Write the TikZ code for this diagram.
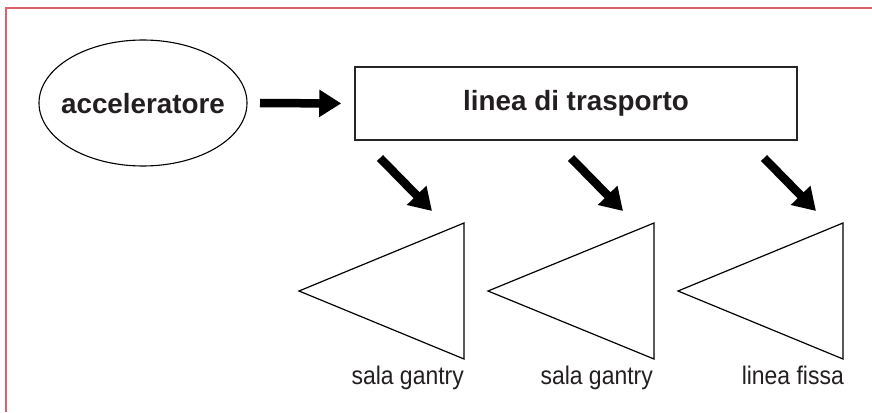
\documentclass[tikz,border=0pt]{standalone}
\usepackage{fontspec}
\setmainfont{Liberation Sans}
\newfontfamily\labfont[FakeStretch=0.9]{Liberation Sans}
\usetikzlibrary{arrows.meta,shapes.geometric}
\definecolor{frame}{RGB}{222,96,106}
\definecolor{ink}{RGB}{35,31,32}
\begin{document}
\begin{tikzpicture}[x=1pt,y=-1pt,
  bold/.style={font=\bfseries\fontsize{27.8}{30}\selectfont, text=ink},
  lab/.style={font=\labfont\fontsize{25.5}{28}\selectfont, text=ink, inner sep=0pt},
  bigarrow/.style={line width=8.5pt, -{Triangle[length=22pt,width=26pt]}},
  tri/.style={draw=black, line width=1.2pt, line join=miter}]
\useasboundingbox (0,0) rectangle (872,412);
% frame
\draw[frame, line width=1.4pt] (6,412) -- (6,8) -- (872,8);
% nodes
\node[inner sep=0pt, bold] (acc) at (143,104) {acceleratore};
\draw[line width=1.1pt] (143,103) ellipse [x radius=104, y radius=63];
\coordinate (accE) at (247,103);
\node[draw=black!85, line width=1.5pt, minimum width=442pt, minimum height=73pt, inner sep=0pt, bold] (lt) at (576,103.5) {linea di trasporto};
% horizontal arrow
\draw[bigarrow, shorten <=13pt, shorten >=13pt] (accE) -- (lt.west);
% diagonal arrows
\coordinate (s1) at (380,158); \coordinate (e1) at (432,211);
\coordinate (s2) at (571,158); \coordinate (e2) at (623,211);
\coordinate (s3) at (764,158); \coordinate (e3) at (816,211);
\draw[bigarrow] (s1) -- (e1);
\draw[bigarrow] (s2) -- (e2);
\draw[bigarrow] (s3) -- (e3);
% triangles
\coordinate (t1l) at (299,291); \coordinate (t1a) at (464,223); \coordinate (t1b) at (464,359);
\coordinate (t2l) at (488,291); \coordinate (t2a) at (654,223); \coordinate (t2b) at (654,359);
\coordinate (t3l) at (678,291); \coordinate (t3a) at (843,223); \coordinate (t3b) at (843,359);
\draw[tri] (t1l) -- (t1a) -- (t1b) -- cycle;
\draw[tri] (t2l) -- (t2a) -- (t2b) -- cycle;
\draw[tri] (t3l) -- (t3a) -- (t3b) -- cycle;
% labels
\node[lab, anchor=base east] (l1) at (464,384) {sala gantry};
\node[lab, anchor=base east] (l2) at (653,384) {sala gantry};
\node[lab, anchor=base east] (l3) at (844,384) {linea fissa};
\end{tikzpicture}
\end{document}
